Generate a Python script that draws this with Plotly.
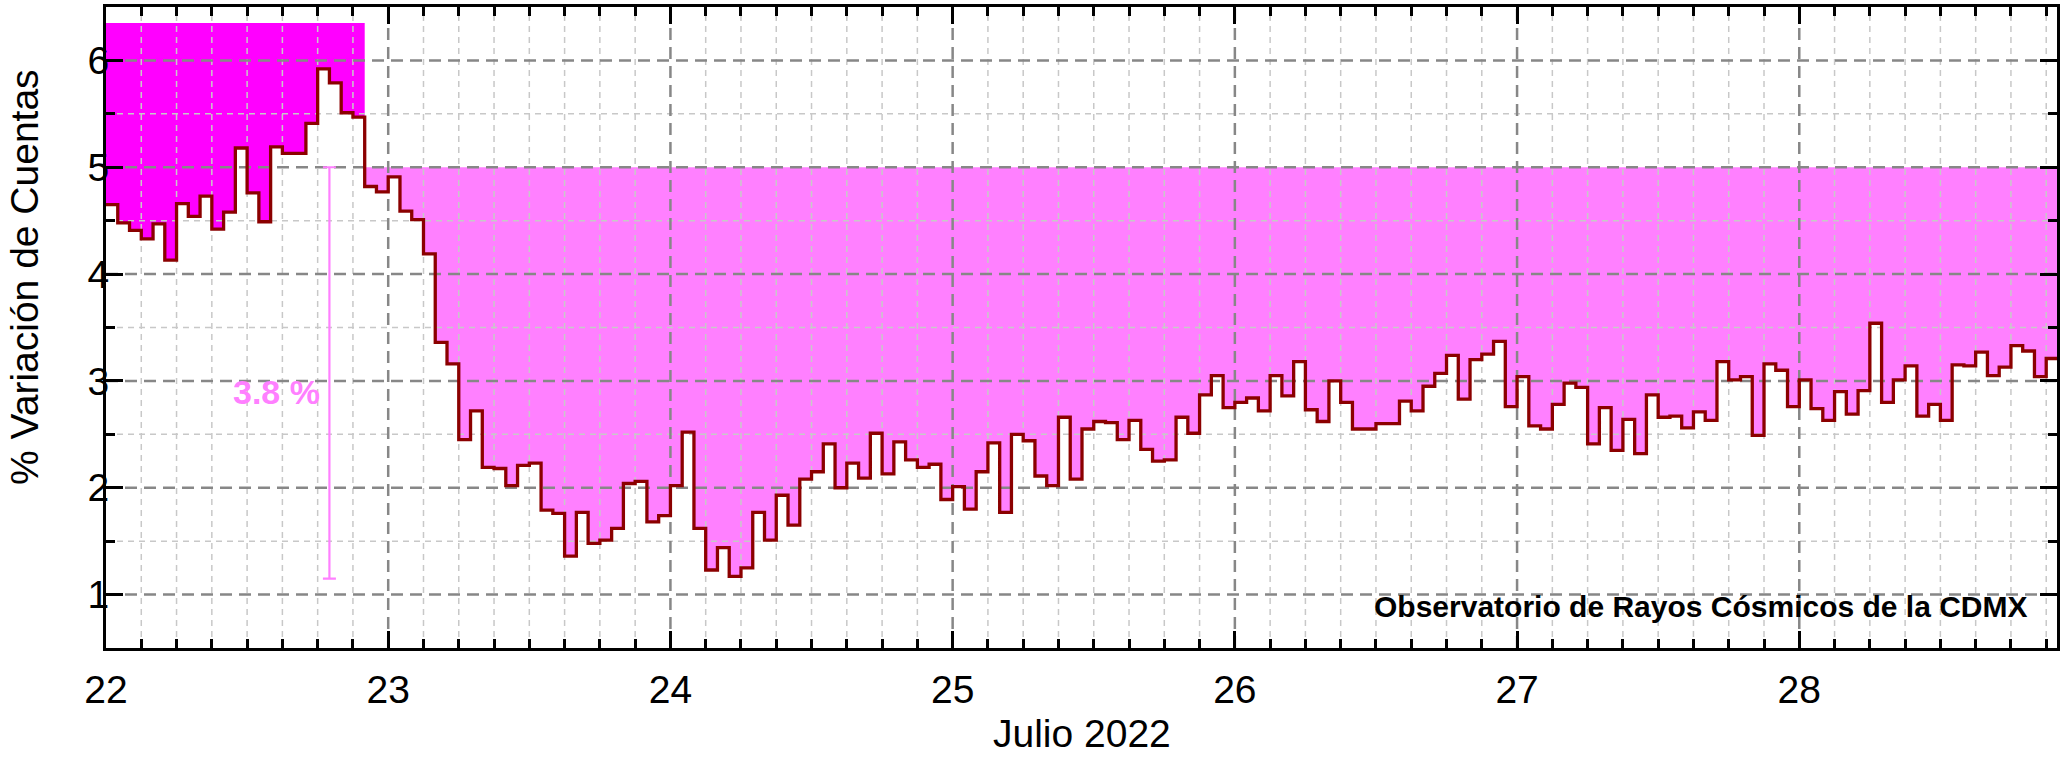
import pandas as pd
import plotly.graph_objects as go

# ---------------- data (hourly % variation) ----------------
day22 = [4.65, 4.48, 4.41, 4.33, 4.47, 4.13, 4.66, 4.54, 4.73, 4.42, 4.58, 5.18,
         4.76, 4.49, 5.19, 5.13, 5.13, 5.41, 5.92, 5.79, 5.51, 5.47, 4.82, 4.77]
day23 = [4.91, 4.59, 4.51, 4.19, 3.36, 3.16, 2.45, 2.72, 2.19, 2.18, 2.02, 2.21,
         2.23, 1.79, 1.76, 1.36, 1.77, 1.48, 1.51, 1.62, 2.04, 2.06, 1.68, 1.74]
day24 = [2.02, 2.52, 1.62, 1.23, 1.44, 1.17, 1.25, 1.77, 1.51, 1.93, 1.65, 2.08,
         2.15, 2.41, 2.00, 2.23, 2.09, 2.51, 2.13, 2.43, 2.26, 2.19, 2.22, 1.89]
day25 = [2.01, 1.80, 2.15, 2.42, 1.77, 2.50, 2.44, 2.11, 2.02, 2.66, 2.08, 2.55,
         2.62, 2.61, 2.45, 2.63, 2.36, 2.25, 2.26, 2.66, 2.51, 2.87, 3.05, 2.75]
day26 = [2.80, 2.84, 2.72, 3.05, 2.86, 3.18, 2.73, 2.62, 3.00, 2.80, 2.55, 2.55,
         2.60, 2.60, 2.81, 2.72, 2.95, 3.07, 3.24, 2.83, 3.20, 3.25, 3.37, 2.76]
day27 = [3.04, 2.58, 2.55, 2.78, 2.98, 2.94, 2.41, 2.75, 2.35, 2.64, 2.32, 2.87,
         2.66, 2.67, 2.56, 2.71, 2.63, 3.18, 3.01, 3.04, 2.49, 3.16, 3.10, 2.76]
day28 = [3.01, 2.74, 2.63, 2.90, 2.69, 2.91, 3.54, 2.80, 3.01, 3.14, 2.67, 2.78,
         2.63, 3.15, 3.14, 3.27, 3.05, 3.13, 3.33, 3.28, 3.04, 3.21]

start_time = "2022-07-22 00:00"
x_end = "2022-07-28 21:55"
y_range = [0.5, 6.5]
major_y = [1, 2, 3, 4, 5, 6]
minor_y = [1.5, 2.5, 3.5, 4.5, 5.5]
tick_days = ["22", "23", "24", "25", "26", "27", "28"]

# reference levels of the shaded regions
split_hour = 22          # magenta region covers the first 22 hours
magenta_top = 6.35
pink_top = 5.0

# amplitude bar
bar_time = "2022-07-22 19:00"
bar_bottom = 1.15
bar_top = 5.0
bar_label = "3.8 %"
bar_label_time = "2022-07-22 14:28"
bar_label_y = 2.90

# ---------------- build series ----------------
values = day22 + day23 + day24 + day25 + day26 + day27 + day28
times = list(pd.date_range(start_time, periods=len(values), freq="h"))
hour = pd.Timedelta(hours=1)
times_ext = times + [times[-1] + hour]
values_ext = values + [values[-1]]

x0 = pd.Timestamp(start_time)
x1 = pd.Timestamp(x_end)

MAGENTA = "#FF00FF"
PINK = "#FF80FF"
LINE = "#8B0000"
FONT = "Liberation Sans, Arial, sans-serif"

fig = go.Figure()

# magenta fill (first hours)
mx = times[:split_hour] + [times[split_hour]]
my = values[:split_hour] + [values[split_hour - 1]]
fig.add_trace(go.Scatter(x=[mx[0], mx[-1]], y=[magenta_top, magenta_top], mode="lines",
                         line=dict(width=0, color=MAGENTA), hoverinfo="skip", showlegend=False))
fig.add_trace(go.Scatter(x=mx, y=my, mode="lines", line=dict(width=0, color=MAGENTA, shape="hv"),
                         fill="tonexty", fillcolor=MAGENTA, hoverinfo="skip", showlegend=False))

# pink fill (rest)
px_ = times_ext[split_hour:]
py_ = values_ext[split_hour:]
fig.add_trace(go.Scatter(x=[px_[0], px_[-1]], y=[pink_top, pink_top], mode="lines",
                         line=dict(width=0, color=PINK), hoverinfo="skip", showlegend=False))
fig.add_trace(go.Scatter(x=px_, y=py_, mode="lines", line=dict(width=0, color=PINK, shape="hv"),
                         fill="tonexty", fillcolor=PINK, hoverinfo="skip", showlegend=False))

# grid drawn above the fills
def hlines(levels):
    xs, ys = [], []
    for v in levels:
        xs += [x0, x1, None]
        ys += [v, v, None]
    return xs, ys

def vlines(ts):
    xs, ys = [], []
    for t in ts:
        xs += [t, t, None]
        ys += [y_range[0], y_range[1], None]
    return xs, ys

day_lines = list(pd.date_range(x0 + pd.Timedelta(days=1), x1, freq="D"))
minor_lines = [t for t in pd.date_range(x0, x1, freq="3h") if t.hour != 0]

gx, gy = hlines(minor_y)
fig.add_trace(go.Scatter(x=gx, y=gy, mode="lines", line=dict(color="#c8c8c8", width=1.5, dash="6px,5px"),
                         hoverinfo="skip", showlegend=False))
gx, gy = vlines(minor_lines)
fig.add_trace(go.Scatter(x=gx, y=gy, mode="lines", line=dict(color="#c8c8c8", width=1.5, dash="6px,5px"),
                         hoverinfo="skip", showlegend=False))
gx, gy = hlines(major_y)
fig.add_trace(go.Scatter(x=gx, y=gy, mode="lines", line=dict(color="#878787", width=2.5, dash="12px,7px"),
                         hoverinfo="skip", showlegend=False))
gx, gy = vlines(day_lines)
fig.add_trace(go.Scatter(x=gx, y=gy, mode="lines", line=dict(color="#878787", width=2.5, dash="12px,7px"),
                         hoverinfo="skip", showlegend=False))

# main step line
fig.add_trace(go.Scatter(x=times_ext, y=values_ext, mode="lines",
                         line=dict(color=LINE, width=3.3, shape="hv"), showlegend=False))

# amplitude bar
mid = (bar_top + bar_bottom) / 2
fig.add_trace(go.Scatter(x=[pd.Timestamp(bar_time)], y=[mid], mode="markers",
                         marker=dict(size=0.1, color=PINK, opacity=0),
                         error_y=dict(type="data", array=[bar_top - mid], visible=True,
                                      color=PINK, thickness=2.2, width=6.5),
                         hoverinfo="skip", showlegend=False))

fig.add_annotation(x=pd.Timestamp(bar_label_time), y=bar_label_y, xref="x", yref="y",
                   text="<b>" + bar_label + "</b>", showarrow=False,
                   font=dict(family=FONT, size=34, color=PINK), xanchor="center", yanchor="middle")

fig.add_annotation(x=0.986, y=0.064, xref="paper", yref="paper",
                   text="<b>Observatorio de Rayos Cósmicos de la CDMX</b>", showarrow=False,
                   font=dict(family=FONT, size=30, color="black"), xanchor="right", yanchor="middle")

fig.add_annotation(x=-0.0415, y=0.579, xref="paper", yref="paper", text="% Variación de Cuentas",
                   textangle=-90, showarrow=False, font=dict(family=FONT, size=39, color="black"),
                   xanchor="center", yanchor="middle")
fig.add_annotation(x=0.5, y=-0.170, xref="paper", yref="paper", text="Julio 2022",
                   showarrow=False, font=dict(family=FONT, size=39, color="black"),
                   xanchor="center", yanchor="bottom")

tick_vals = [x0 + pd.Timedelta(days=i) for i in range(len(tick_days))]

fig.update_xaxes(type="date", range=[x0, x1], showgrid=False, zeroline=False, automargin=False,
                 showline=True, linewidth=3, linecolor="black", mirror="ticks",
                 ticks="inside", ticklen=17, tickwidth=3, tickcolor="black",
                 tickvals=tick_vals, ticktext=tick_days, ticklabelstandoff=5,
                 tickfont=dict(family=FONT, size=39, color="black"),
                 minor=dict(ticks="inside", ticklen=9, tickwidth=3, tickcolor="black",
                            dtick=3 * 3600 * 1000, showgrid=False))
fig.update_yaxes(range=y_range, showgrid=False, zeroline=False, automargin=False,
                 showline=True, linewidth=3, linecolor="black", mirror="ticks",
                 ticks="inside", ticklen=17, tickwidth=3, tickcolor="black",
                 tickvals=major_y, ticktext=[str(v) for v in major_y], ticklabelstandoff=-14,
                 tickfont=dict(family=FONT, size=39, color="black"),
                 minor=dict(ticks="inside", ticklen=9, tickwidth=3, tickcolor="black",
                            tickvals=minor_y, showgrid=False))

fig.update_layout(width=2064, height=757, margin=dict(l=106, r=7, t=7, b=109, autoexpand=False),
                  plot_bgcolor="white", paper_bgcolor="white", showlegend=False)

fig.write_html("out.html", config={"displayModeBar": False, "staticPlot": True},
               post_script="document.body.style.margin='0';document.body.style.overflow='hidden';")
